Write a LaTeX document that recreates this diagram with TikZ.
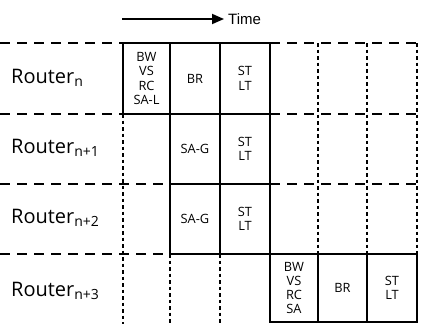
\documentclass[tikz,border=0pt]{standalone}
\usepackage{fontspec}
\setmainfont{Open Sans}
\newfontfamily\timefont{Liberation Sans}
\usetikzlibrary{arrows.meta}
\begin{document}
\begin{tikzpicture}[x=1pt,y=-1pt,
  cell/.style={draw, line width=2.6pt, inner sep=0pt, align=center,
    font=\fontsize{12.8}{14.3}\selectfont},
  gridline/.style={line width=1.8pt, dash pattern=on 10pt off 7pt},
  dotline/.style={line width=1.7pt, dash pattern=on 3.5pt off 3pt},
  lbl/.style={anchor=base west, font=\fontsize{20}{22}\selectfont, inner sep=0pt}]
\useasboundingbox[fill=white] (0,0) rectangle (422,324);

% grid lines
\draw[gridline] (0,43) -- (123,43);
\draw[gridline] (270,43) -- (417,43);
\draw[gridline] (0,114) -- (123,114);
\draw[gridline] (270,114) -- (417,114);
\draw[gridline] (0,184) -- (170,184);
\draw[gridline] (270,184) -- (417,184);
\draw[gridline] (0,254) -- (170,254);

\draw[dotline] (123,114) -- (123,324);
\draw[dotline] (170,254) -- (170,324);
\draw[dotline] (220,254) -- (220,324);
\draw[dotline] (318,43) -- (318,254);
\draw[dotline] (367,43) -- (367,254);
\draw[dotline] (417,43) -- (417,254);

% time arrow
\coordinate (tA) at (122,19);
\coordinate (tB) at (224,19);
\draw[line width=1.8pt, -{Triangle[length=12pt,width=10pt]}] (tA) -- (tB);
\node[anchor=base west, inner sep=0pt, font=\timefont\fontsize{15}{17}\selectfont] (time) at (228,24.5) {Time};

% labels
\node[lbl] (l0) at (11,83) {Router\textsubscript{n}};
\node[lbl] (l1) at (11,153) {Router\textsubscript{n+1}};
\node[lbl] (l2) at (11,223) {Router\textsubscript{n+2}};
\node[lbl] (l3) at (11,296) {Router\textsubscript{n+3}};

% Router n
\node[cell, minimum width=47pt, minimum height=71pt] (a1) at (146.5,78.5) {BW\\VS\\RC\\SA-L};
\node[cell, minimum width=50pt, minimum height=71pt] (a2) at (195,78.5) {BR};
\node[cell, minimum width=50pt, minimum height=71pt] (a3) at (245,78.5) {ST\\LT};
% Router n+1
\node[cell, minimum width=50pt, minimum height=70pt] (b1) at (195,149) {SA-G};
\node[cell, minimum width=50pt, minimum height=70pt] (b2) at (245,149) {ST\\LT};
% Router n+2
\node[cell, minimum width=50pt, minimum height=70pt] (c1) at (195,219) {SA-G};
\node[cell, minimum width=50pt, minimum height=70pt] (c2) at (245,219) {ST\\LT};
% Router n+3
\node[cell, minimum width=48pt, minimum height=68pt] (d1) at (294,288) {BW\\VS\\RC\\SA};
\node[cell, minimum width=49pt, minimum height=68pt] (d2) at (342.5,288) {BR};
\node[cell, minimum width=50pt, minimum height=68pt] (d3) at (392,288) {ST\\LT};
\end{tikzpicture}
\end{document}
